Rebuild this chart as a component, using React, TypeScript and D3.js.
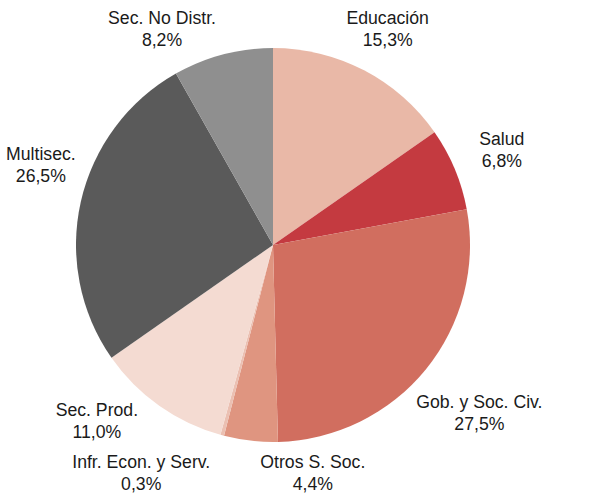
import React from 'react';
import * as d3 from 'd3';

const categories = ['Educación', 'Salud', 'Gob. y Soc. Civ.', 'Otros S. Soc.', 'Infr. Econ. y Serv.', 'Sec. Prod.', 'Multisec.', 'Sec. No Distr.'];
const values = [15.3, 6.8, 27.5, 4.4, 0.3, 11.0, 26.5, 8.2];
const colors = ['#E9B8A7', '#C43A40', '#D16E5F', '#DF9580', '#EBC0B2', '#F4DBD2', '#5A5A5A', '#8F8F8F'];

const width = 594;
const height = 504;
const cx = 273;
const cy = 245;
const radius = 197;
const labelRadius = 248;
const fontSize = 19;
const squeeze = 0.93; // narrow face look
const lineH = 22;
const fontFamily = "'Liberation Sans', Arial, sans-serif";

const fmt = (v: number) => v.toFixed(1).replace('.', ',') + '%';

function measure(text: string) {
  const canvas = document.createElement('canvas');
  const ctx = canvas.getContext('2d')!;
  ctx.font = `${fontSize}px ${fontFamily}`;
  return ctx.measureText(text).width * squeeze;
}

type Label = { i: number; w: number; h: number; x: number; y: number };

export default function App() {
  const pie = d3.pie<number>().sort(null).value(d => d);
  const arcs = pie(values);
  const arc = d3.arc<d3.PieArcDatum<number>>().innerRadius(0).outerRadius(radius);

  const labels: Label[] = arcs.map((a, i) => {
    const mid = (a.startAngle + a.endAngle) / 2;
    const w = Math.max(measure(categories[i]), measure(fmt(values[i])));
    return { i, w, h: 36, x: Math.sin(mid) * labelRadius, y: -Math.cos(mid) * labelRadius };
  });

  const yMin = (l: Label) => -cy + l.h / 2 + 10;
  const yMax = (l: Label) => height - cy - l.h / 2 - 14;
  const clamp = () => {
    labels.forEach(l => {
      l.x = Math.max(-cx + l.w / 2 + 6, Math.min(width - cx - l.w / 2 - 2, l.x));
      l.y = Math.max(yMin(l), Math.min(yMax(l), l.y));
    });
  };
  const pinned = (l: Label) => l.y <= yMin(l) + 0.5 || l.y >= yMax(l) - 0.5;

  // keep boxes off the pie
  const avoidPie = () => {
    labels.forEach(l => {
      const nx = Math.max(l.x - l.w / 2, Math.min(l.x + l.w / 2, 0));
      const ny = Math.max(l.y - l.h / 2, Math.min(l.y + l.h / 2, 0));
      const d = Math.hypot(nx, ny);
      const need = radius + 10;
      if (d < need) {
        const len = Math.hypot(l.x, l.y) || 1;
        l.x += (l.x / len) * (need - d);
        l.y += (l.y / len) * (need - d);
      }
    });
  };

  clamp();
  const padX = 50, padY = 16;
  for (let it = 0; it < 80; it++) {
    avoidPie();
    for (let a = 0; a < labels.length; a++) {
      for (let b = a + 1; b < labels.length; b++) {
        const A = labels[a], B = labels[b];
        const ox = (A.w + B.w) / 2 + padX - Math.abs(A.x - B.x);
        const oy = (A.h + B.h) / 2 + padY - Math.abs(A.y - B.y);
        if (ox > 0 && oy > 0) {
          const pa = pinned(A), pb = pinned(B);
          if (pa !== pb) {
            // move the free one vertically
            const free = pa ? B : A, fixed = pa ? A : B;
            free.y += (free.y < fixed.y ? -1 : 1) * oy;
          } else {
            const s = A.x < B.x ? -1 : 1;
            A.x += s * ox / 2;
            B.x -= s * ox / 2;
          }
        }
      }
    }
    clamp();
  }

  return (
    <div style={{ position: 'absolute', left: 0, top: 0 }}>
      <svg width={width} height={height} style={{ display: 'block', background: '#fff' }}>
        <g transform={`translate(${cx},${cy})`}>
          {arcs.map((a, i) => (
            <path key={i} d={arc(a) || ''} fill={colors[i]} />
          ))}
          {labels.map(l => (
            <text
              key={l.i}
              transform={`translate(${l.x},${l.y - 4.2}) scale(${squeeze},1)`}
              textAnchor="middle"
              fontFamily={fontFamily}
              fontSize={fontSize}
              fill="#1a1a1a"
            >
              <tspan x={0} y={0}>{categories[l.i]}</tspan>
              <tspan x={0} y={lineH}>{fmt(values[l.i])}</tspan>
            </text>
          ))}
        </g>
      </svg>
    </div>
  );
}
